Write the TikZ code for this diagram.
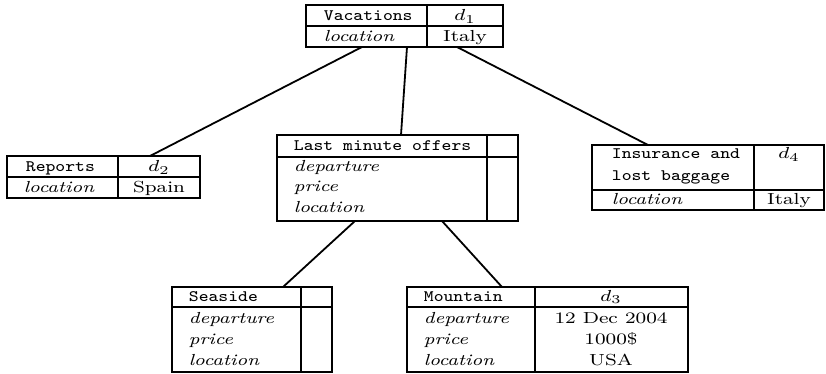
\documentclass[tikz,border=0pt]{standalone}
\usepackage{graphicx}
\usetikzlibrary{calc}
% table texts are widened a little
\newcommand\tabhead[1]{\scalebox{1.16}[1]{\ttfamily #1}}
\newcommand\tabattr[1]{\scalebox{1.22}[1]{\itshape #1}}
\newcommand\tabval[1]{\scalebox{1.25}[1]{#1}}
\begin{document}
\begin{tikzpicture}[x=0.5pt,y=-0.5pt,line width=0.9pt,
  tbl/.style 2 args={draw, inner sep=0pt, outer sep=0pt, anchor=north west,
    minimum width=#1*0.5pt, minimum height=#2*0.5pt},
  lft/.style={inner sep=0pt, anchor=base west, font=\fontsize{8}{9.5}\selectfont},
  mid/.style={inner sep=0pt, anchor=base, font=\fontsize{8}{9.5}\selectfont},
  link/.style={line width=0.9pt}]
\useasboundingbox (0,0) rectangle (826,374);

% ---------- Vacations ----------
\node[tbl={197}{42}] (vac) at (306,5) {};
\draw ($(vac.north west)+(121,0)$) -- ($(vac.south west)+(121,0)$);
\draw ($(vac.north west)+(0,21)$) -- ($(vac.north east)+(0,21)$);
\node[lft] (vacH) at (323,21) {\tabhead{Vacations}};
\node[mid] (vacD) at (465,21) {\tabval{$d_1$}};
\node[lft] (vacA) at (323,42) {\tabattr{location}};
\node[mid] (vacV) at (465,42) {\tabval{Italy}};

% ---------- Reports ----------
\node[tbl={193}{42}] (rep) at (7,156) {};
\draw ($(rep.north west)+(111,0)$) -- ($(rep.south west)+(111,0)$);
\draw ($(rep.north west)+(0,21)$) -- ($(rep.north east)+(0,21)$);
\node[lft] (repH) at (25,172) {\tabhead{Reports}};
\node[mid] (repD) at (159,172) {\tabval{$d_2$}};
\node[lft] (repA) at (23,193) {\tabattr{location}};
\node[mid] (repV) at (159,193) {\tabval{Spain}};

% ---------- Last minute offers ----------
\node[tbl={241}{86}] (last) at (277,135) {};
\draw ($(last.north west)+(210,0)$) -- ($(last.south west)+(210,0)$);
\draw ($(last.north west)+(0,22)$) -- ($(last.north east)+(0,22)$);
\node[lft] (lastH) at (293,151) {\tabhead{Last minute offers}};
\node[lft] (lastA1) at (293,172) {\tabattr{departure}};
\node[lft] (lastA2) at (293,192) {\tabattr{price}};
\node[lft] (lastA3) at (293,213) {\tabattr{location}};

% ---------- Insurance and lost baggage ----------
\node[tbl={232}{65}] (ins) at (592,145) {};
\draw ($(ins.north west)+(162,0)$) -- ($(ins.south west)+(162,0)$);
\draw ($(ins.north west)+(0,45)$) -- ($(ins.north east)+(0,45)$);
\node[lft] (insH1) at (611,159) {\tabhead{Insurance and}};
\node[lft] (insH2) at (611,181) {\tabhead{lost baggage}};
\node[mid] (insD) at (789,159) {\tabval{$d_4$}};
\node[lft] (insA) at (611,205) {\tabattr{location}};
\node[mid] (insV) at (789,205) {\tabval{Italy}};

% ---------- Seaside ----------
\node[tbl={160}{85}] (sea) at (172,287) {};
\draw ($(sea.north west)+(129,0)$) -- ($(sea.south west)+(129,0)$);
\draw ($(sea.north west)+(0,20)$) -- ($(sea.north east)+(0,20)$);
\node[lft] (seaH) at (188,301) {\tabhead{Seaside}};
\node[lft] (seaA1) at (188,323) {\tabattr{departure}};
\node[lft] (seaA2) at (188,344) {\tabattr{price}};
\node[lft] (seaA3) at (188,365) {\tabattr{location}};

% ---------- Mountain ----------
\node[tbl={281}{85}] (mnt) at (407,287) {};
\draw ($(mnt.north west)+(128,0)$) -- ($(mnt.south west)+(128,0)$);
\draw ($(mnt.north west)+(0,20)$) -- ($(mnt.north east)+(0,20)$);
\node[lft] (mntH) at (423,301) {\tabhead{Mountain}};
\node[mid] (mntD) at (611,301) {\tabval{$d_3$}};
\node[lft] (mntA1) at (423,323) {\tabattr{departure}};
\node[mid] (mntV1) at (611,323) {\tabval{12 Dec 2004}};
\node[lft] (mntA2) at (423,344) {\tabattr{price}};
\node[mid] (mntV2) at (611,344) {\tabval{1000\$}};
\node[lft] (mntA3) at (423,365) {\tabattr{location}};
\node[mid] (mntV3) at (611,365) {\tabval{USA}};

% ---------- connectors ----------
\draw[link] ($(vac.south west)+(56,0)$)  -- ($(rep.north west)+(143,0)$);
\draw[link] ($(vac.south west)+(101,0)$) -- ($(last.north west)+(124,0)$);
\draw[link] ($(vac.south west)+(151,0)$) -- ($(ins.north west)+(56,0)$);
\draw[link] ($(last.south west)+(78,0)$)  -- ($(sea.north west)+(111,0)$);
\draw[link] ($(last.south west)+(165,0)$) -- ($(mnt.north west)+(95,0)$);
\end{tikzpicture}
\end{document}
